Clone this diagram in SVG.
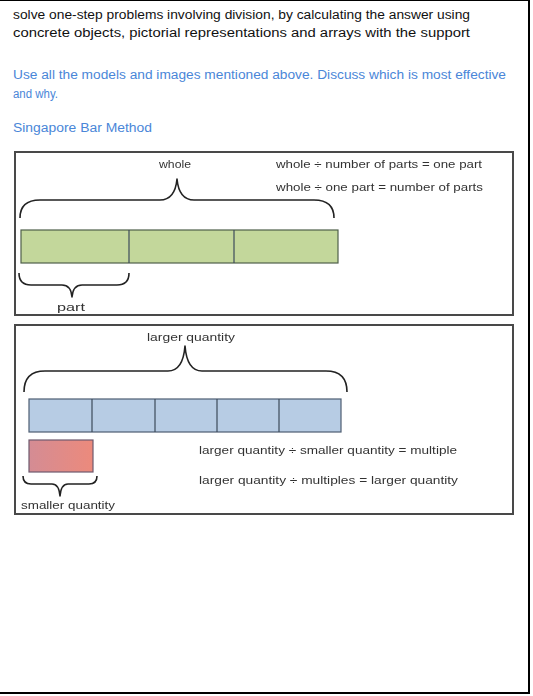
<svg xmlns="http://www.w3.org/2000/svg" width="533" height="696" viewBox="0 0 533 696">
  <style>
    .hdr { font-family: "Liberation Sans", "DejaVu Sans", sans-serif; font-size: 12px; fill: #111; }
    .blue { font-family: "Liberation Sans", "DejaVu Sans", sans-serif; font-size: 12px; fill: #4a86d8; }
    .lbl { font-family: "Liberation Sans", "DejaVu Sans", sans-serif; font-size: 10.5px; fill: #333; }
    .frame { fill: #fff; stroke: #4a4a4a; stroke-width: 2; }
    .brace { fill: none; stroke: #222; stroke-width: 1.6; stroke-linejoin: round; }
    .cell-g { fill: #c3d79b; stroke: #4f5f4a; stroke-width: 1.2; }
    .cell-b { fill: #b7cce4; stroke: #4d5d72; stroke-width: 1.2; }
    .div { stroke: #3c4a5a; stroke-width: 1.2; }
  </style>
  <defs>
    <linearGradient id="pink" x1="0" y1="0" x2="1" y2="0">
      <stop offset="0" stop-color="#d48c94"/>
      <stop offset="1" stop-color="#ec8a7c"/>
    </linearGradient>
    <filter id="soft" x="-5%" y="-5%" width="110%" height="110%">
      <feGaussianBlur stdDeviation="0.35"/>
    </filter>
  </defs>

  <rect width="533" height="696" fill="#fff"/>

  <!-- page edges -->
  <g id="page">
    <line x1="0" y1="0.5" x2="529" y2="0.5" stroke="#000" stroke-width="1"/>
    <line x1="529" y1="0" x2="529" y2="694" stroke="#000" stroke-width="2"/>
    <line x1="0" y1="693" x2="530" y2="693" stroke="#000" stroke-width="2"/>
  </g>

  <!-- objective and prompt -->
  <g id="objective">
    <text class="hdr" x="13" y="19" textLength="457" lengthAdjust="spacingAndGlyphs">solve one-step problems involving division, by calculating the answer using</text>
    <text class="hdr" x="13" y="37" textLength="457" lengthAdjust="spacingAndGlyphs">concrete objects, pictorial representations and arrays with the support</text>
  </g>
  <g id="prompt">
    <text class="blue" x="13" y="79" textLength="493" lengthAdjust="spacingAndGlyphs">Use all the models and images mentioned above.  Discuss which is most effective</text>
    <text class="blue" x="13" y="98" textLength="45" lengthAdjust="spacingAndGlyphs">and why.</text>
    <text class="blue" x="13" y="132" textLength="139" lengthAdjust="spacingAndGlyphs">Singapore Bar Method</text>
  </g>

  <!-- part-whole model -->
  <g id="part-whole" filter="url(#soft)">
    <rect class="frame" x="15" y="152" width="498" height="163"/>
    <g id="whole-bar">
      <rect class="cell-g" x="21" y="230" width="317" height="33"/>
      <line class="div" x1="129" y1="230" x2="129" y2="263"/>
      <line class="div" x1="234" y1="230" x2="234" y2="263"/>
    </g>
    <text class="lbl" x="159" y="168" textLength="32" lengthAdjust="spacingAndGlyphs">whole</text>
    <text class="lbl" x="57" y="311" textLength="28" lengthAdjust="spacingAndGlyphs">part</text>
    <text class="lbl" x="276" y="168" textLength="206" lengthAdjust="spacingAndGlyphs">whole ÷ number of parts = one part</text>
    <text class="lbl" x="276" y="191" textLength="207" lengthAdjust="spacingAndGlyphs">whole ÷ one part = number of parts</text>
  </g>

  <!-- multiples model -->
  <g id="multiples" filter="url(#soft)">
    <rect class="frame" x="15" y="325" width="498" height="189"/>
    <g id="larger-bar">
      <rect class="cell-b" x="29" y="399" width="312" height="33"/>
      <line class="div" x1="92" y1="399" x2="92" y2="432"/>
      <line class="div" x1="155" y1="399" x2="155" y2="432"/>
      <line class="div" x1="217" y1="399" x2="217" y2="432"/>
      <line class="div" x1="279" y1="399" x2="279" y2="432"/>
    </g>
    <g id="smaller-bar">
      <rect x="29" y="440" width="64" height="32" fill="url(#pink)" stroke="#6e5a6e" stroke-width="1.2"/>
    </g>
    <text class="lbl" x="147" y="341" textLength="88" lengthAdjust="spacingAndGlyphs">larger quantity</text>
    <text class="lbl" x="21" y="509" textLength="94" lengthAdjust="spacingAndGlyphs">smaller quantity</text>
    <text class="lbl" x="199" y="454" textLength="258" lengthAdjust="spacingAndGlyphs">larger quantity ÷ smaller quantity = multiple</text>
    <text class="lbl" x="199" y="484" textLength="259" lengthAdjust="spacingAndGlyphs">larger quantity ÷ multiples = larger quantity</text>
  </g>

  <!-- braces -->
  <g id="connectors" filter="url(#soft)">
    <path class="brace" d="M20,218 Q20,200 40,200 L160,200 Q175,200 177,179 Q179,200 194,200 L314,200 Q334,200 334,218"/>
    <path class="brace" d="M19,273 Q19,285 31,285 L62,285 Q71,285 72,297 Q73,285 82,285 L117,285 Q129,285 129,273"/>
    <path class="brace" d="M24,392 Q24,371 45,371 L168,371 Q183,371 185,346 Q187,371 202,371 L326,371 Q347,371 347,392"/>
    <path class="brace" d="M23,476 Q23,484 31,484 L52,484 Q59,484 60,496 Q61,484 68,484 L89,484 Q97,484 97,476"/>
  </g>
</svg>
